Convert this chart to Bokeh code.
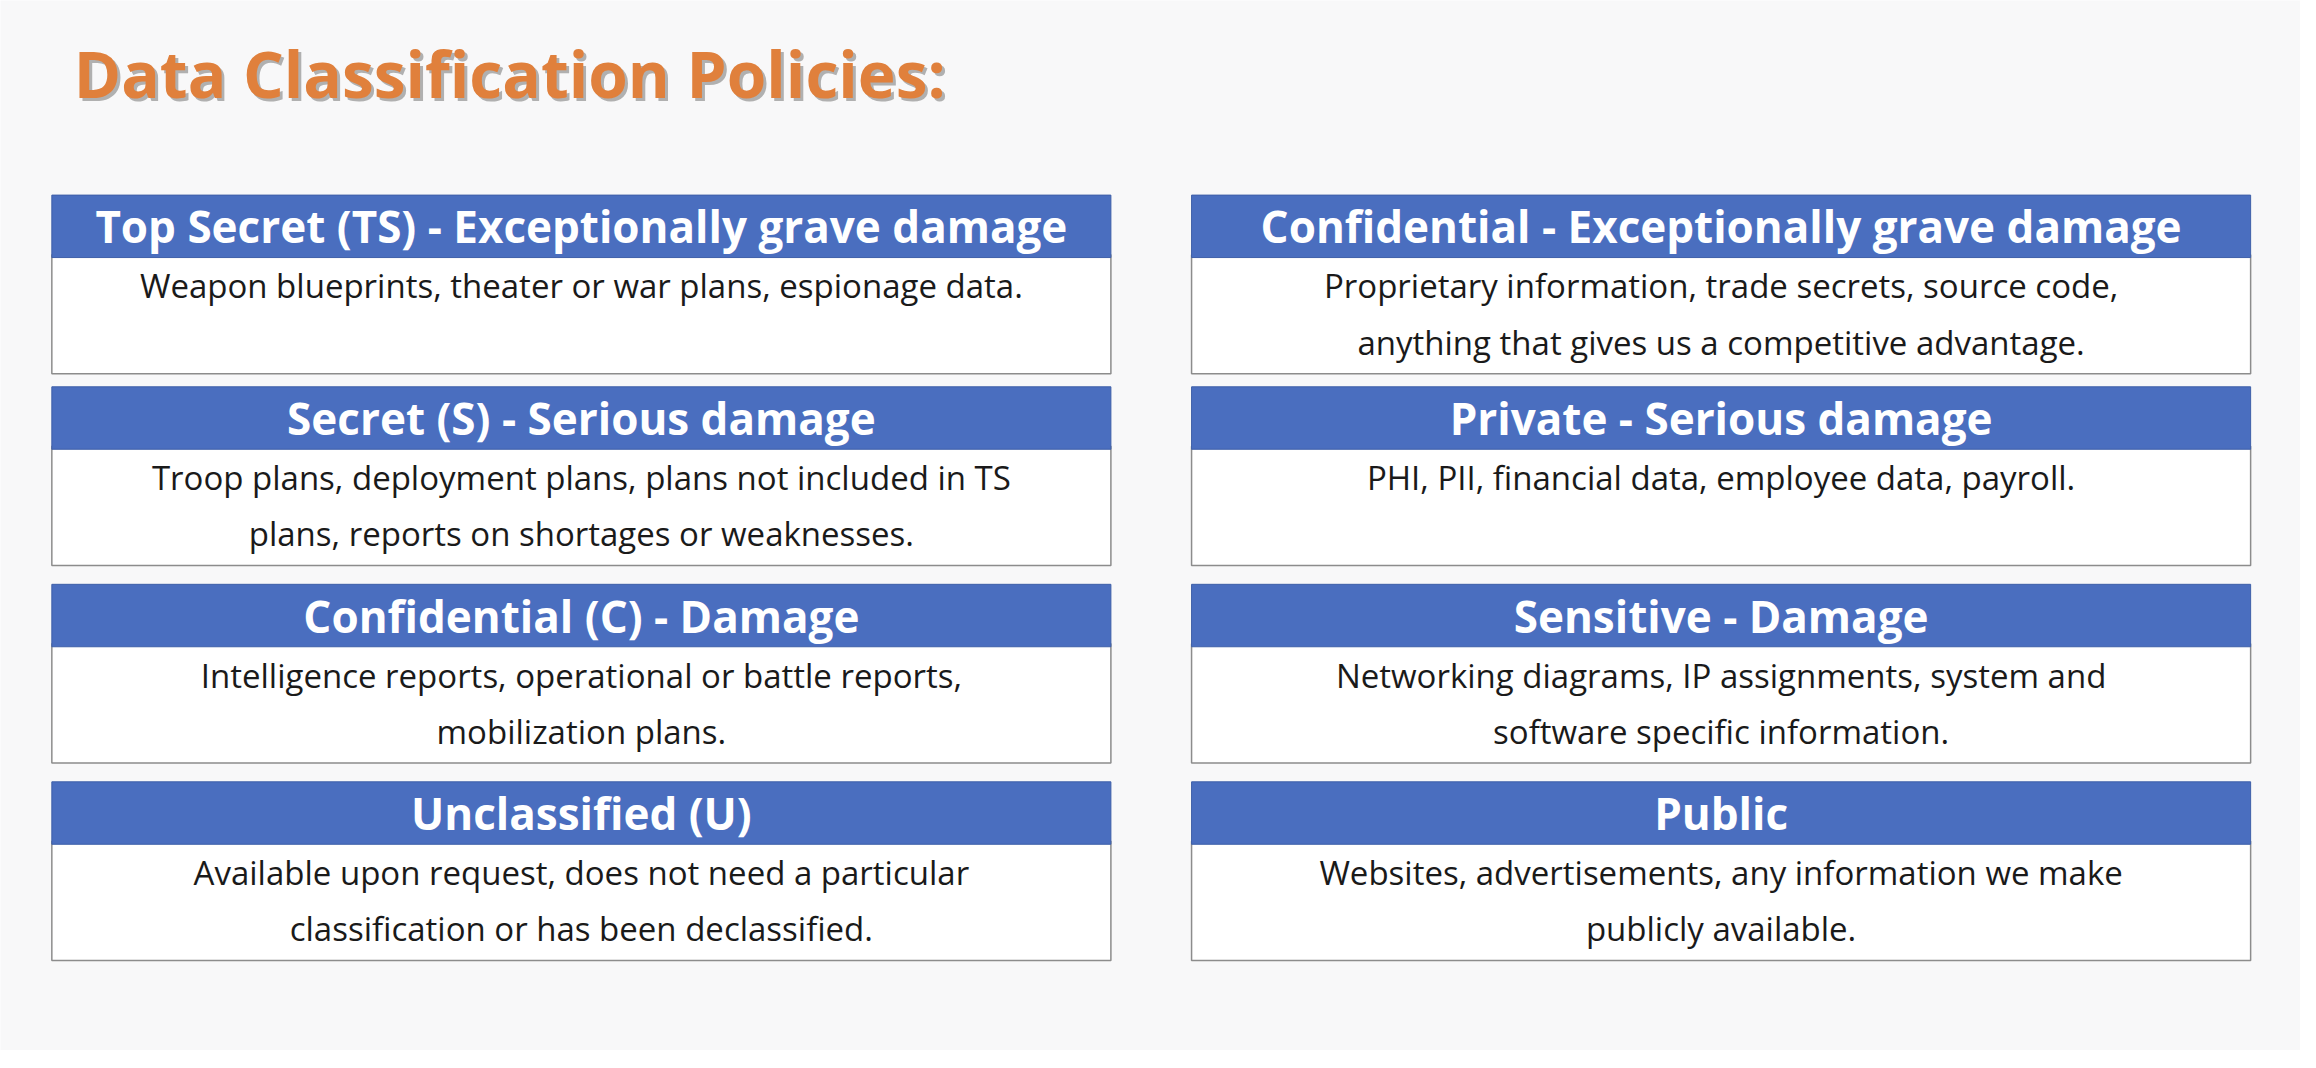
from bokeh.plotting import figure
from bokeh.models import ColumnDataSource, Range1d
from bokeh.core.properties import value
from bokeh.embed import file_html
from bokeh.resources import INLINE

title = "Data Classification Policies:"

# military scheme (left) and commercial scheme (right)
left_headers = ["Top Secret (TS) - Exceptionally grave damage", "Secret (S) - Serious damage",
                "Confidential (C) - Damage", "Unclassified (U)"]
left_texts = ["Weapon blueprints, theater or war plans, espionage data.",
              "Troop plans, deployment plans, plans not included in TS\nplans, reports on shortages or weaknesses.",
              "Intelligence reports, operational or battle reports,\nmobilization plans.",
              "Available upon request, does not need a particular\nclassification or has been declassified."]
right_headers = ["Confidential - Exceptionally grave damage", "Private - Serious damage",
                 "Sensitive - Damage", "Public"]
right_texts = ["Proprietary information, trade secrets, source code,\nanything that gives us a competitive advantage.",
               "PHI, PII, financial data, employee data, payroll.",
               "Networking diagrams, IP assignments, system and\nsoftware specific information.",
               "Websites, advertisements, any information we make\npublicly available."]

W, H = 1568, 723
p = figure(width=2300, height=1050, x_range=Range1d(0, W), y_range=Range1d(H, 0),
           output_backend="svg", toolbar_location=None, min_border=0)
p.axis.visible = False
p.grid.visible = False
p.outline_line_color = None
p.background_fill_color = "#f8f8f9"
p.border_fill_color = "#f8f8f9"

col_x = [35, 812]
col_w = 722
row_top = [134, 266, 402, 538]
head_h = 43
body_h = 82

hx, hy, bx, by, hlab, blab = [], [], [], [], [], []
for c, (heads, texts) in enumerate([(left_headers, left_texts), (right_headers, right_texts)]):
    for r in range(4):
        hx.append(col_x[c] + col_w / 2)
        hy.append(row_top[r] + head_h / 2)
        bx.append(col_x[c] + col_w / 2)
        by.append(row_top[r] + head_h + body_h / 2 - 2)
        hlab.append(heads[r])
        blab.append(texts[r])

hs = ColumnDataSource(dict(x=hx, y=hy, t=hlab))
bs = ColumnDataSource(dict(x=bx, y=by, t=blab))

p.rect("x", "y", width=col_w, height=body_h, source=bs, fill_color="white",
       line_color="#8c8c8c", line_width=1.5)
p.rect("x", "y", width=col_w, height=head_h, source=hs, fill_color="#4a6ebf",
       line_color="#3e5fa8", line_width=1)
p.text("x", "y", text="t", source=hs, text_align="center", text_baseline="middle",
       text_color="white", text_font=value("Open Sans"), text_font_style="bold",
       text_font_size="44px")
bs.data["y2"] = [y - body_h / 2 + 6 for y in by]
p.text("x", "y2", text="t", source=bs, text_align="center", text_baseline="top",
       text_color="#1a1a1a", text_font=value("Open Sans"), text_font_size="33px",
       text_line_height=1.25)

p.text([52], [52], text=[title], text_baseline="middle", text_color="#b0b0b0",
       text_font=value("Open Sans"), text_font_style="bold", text_font_size="64px")
p.text([50], [50], text=[title], text_baseline="middle", text_color="#e0803c",
       text_font=value("Open Sans"), text_font_style="bold", text_font_size="64px")

open("out.html", "w").write(file_html(p, INLINE))
